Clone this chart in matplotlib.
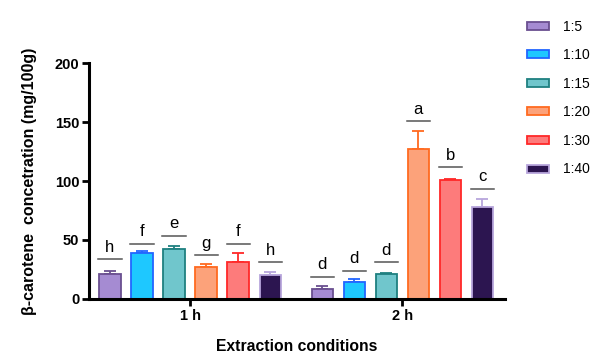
import numpy as np
import matplotlib
matplotlib.use("Agg")
import matplotlib.pyplot as plt

plt.rcParams["font.family"] = ["Liberation Sans", "DejaVu Sans"]

# data
groups = ["1 h", "2 h"]
ratios = ["1:5", "1:10", "1:15", "1:20", "1:30", "1:40"]
means_1h = [21.5, 39, 42.5, 27.5, 31, 20.5]
means_2h = [8.5, 14, 21, 127, 100.5, 78]
err_1h = [2.2, 2.0, 2.0, 2.3, 8.0, 2.0]
err_2h = [2.3, 3.0, 1.3, 15.5, 0.8, 6.5]
letters_1h = ["h", "f", "e", "g", "f", "h"]
letters_2h = ["d", "d", "d", "a", "b", "c"]
line_1h = [33.5, 47, 53.5, 37, 46.5, 31]
line_2h = [18.5, 24, 31, 150.5, 111.5, 93.5]

faces = ["#a58bd2", "#1ec8ff", "#70c6cc", "#fca27a", "#fd7b7b", "#2c1550"]
edges = ["#6a4f90", "#2266ff", "#1f8080", "#ff6a20", "#ff2828", "#b8a6dc"]

fig = plt.figure(figsize=(5.94, 3.53), dpi=100)
ax = fig.add_axes([0.1498, 0.153, 0.7005, 0.6685])

group_x = np.array([0, 6.625])
offsets = np.arange(6) - 2.5
width = 0.66

means = [means_1h, means_2h]
errs = [err_1h, err_2h]
letters = [letters_1h, letters_2h]
lines = [line_1h, line_2h]

handles = []
for g in range(2):
    for i in range(6):
        x = group_x[g] + offsets[i]
        b = ax.bar(x, means[g][i], width, color=faces[i], edgecolor=edges[i],
                   linewidth=1.3, zorder=2)
        ax.errorbar(x, means[g][i], yerr=[[0], [errs[g][i]]], fmt="none",
                    ecolor=edges[i], elinewidth=1.3, capsize=4, capthick=1.3, zorder=1)
        ax.plot([x - 0.36, x + 0.36], [lines[g][i]] * 2, color="#555555", lw=1.1)
        ax.text(x, lines[g][i] + 4, letters[g][i], ha="center", va="bottom",
                fontsize=12)
        if g == 0:
            handles.append(b)

ax.set_xlim(-3.156, 9.84)
ax.set_ylim(0, 200)
ax.set_yticks([0, 50, 100, 150, 200])
ax.set_xticks(group_x)
ax.set_xticklabels(groups, fontweight="bold", fontsize=10.5)
for lab in ax.get_yticklabels():
    lab.set_fontweight("bold")
    lab.set_fontsize(10.5)
for s in ["top", "right"]:
    ax.spines[s].set_visible(False)
for s in ["left", "bottom"]:
    ax.spines[s].set_linewidth(2.2)
ax.tick_params(width=2, length=5, pad=2)

ax.set_ylabel("β-carotene  concetration (mg/100g)", fontweight="bold", fontsize=11.5,
              labelpad=13)
ax.set_xlabel("Extraction conditions", fontweight="bold", fontsize=11.3, labelpad=12)

fig.legend(handles, ratios, loc="upper left", bbox_to_anchor=(0.866, 0.98),
           frameon=False, fontsize=10, handlelength=1.6, handleheight=0.5,
           handletextpad=1.0, labelspacing=1.05)

fig.savefig("out.png", dpi=100)
